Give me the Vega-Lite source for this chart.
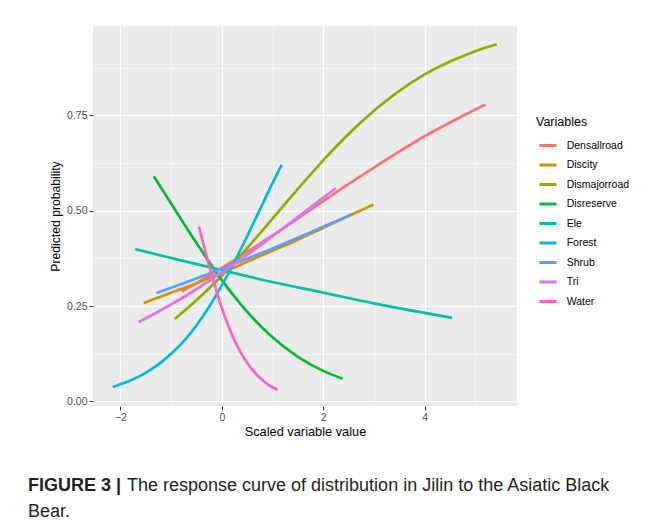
{
  "$schema": "https://vega.github.io/schema/vega-lite/v6.json",
  "autosize": {"type": "none"},
  "width": 424,
  "height": 380,
  "padding": {"left": 93, "top": 26, "right": 153, "bottom": 121},
  "background": "white",
  "data": {"values": [
    {"v":"Densallroad","x":-0.79,"p":0.288},{"v":"Densallroad","x":-0.5,"p":0.310},{"v":"Densallroad","x":0,"p":0.350},{"v":"Densallroad","x":0.5,"p":0.392},{"v":"Densallroad","x":1,"p":0.435},{"v":"Densallroad","x":1.5,"p":0.480},{"v":"Densallroad","x":2,"p":0.525},{"v":"Densallroad","x":2.5,"p":0.570},{"v":"Densallroad","x":3,"p":0.613},{"v":"Densallroad","x":3.5,"p":0.655},{"v":"Densallroad","x":4,"p":0.695},{"v":"Densallroad","x":4.5,"p":0.731},{"v":"Densallroad","x":5,"p":0.765},{"v":"Densallroad","x":5.2,"p":0.778},
    {"v":"Discity","x":-1.54,"p":0.258},{"v":"Discity","x":-1,"p":0.285},{"v":"Discity","x":-0.5,"p":0.310},{"v":"Discity","x":0,"p":0.337},{"v":"Discity","x":0.5,"p":0.366},{"v":"Discity","x":1,"p":0.395},{"v":"Discity","x":1.5,"p":0.424},{"v":"Discity","x":2,"p":0.455},{"v":"Discity","x":2.5,"p":0.486},{"v":"Discity","x":2.99,"p":0.516},
    {"v":"Dismajorroad","x":-0.93,"p":0.216},{"v":"Dismajorroad","x":-0.5,"p":0.265},{"v":"Dismajorroad","x":0,"p":0.330},{"v":"Dismajorroad","x":0.5,"p":0.402},{"v":"Dismajorroad","x":1,"p":0.479},{"v":"Dismajorroad","x":1.5,"p":0.557},{"v":"Dismajorroad","x":2,"p":0.632},{"v":"Dismajorroad","x":2.5,"p":0.701},{"v":"Dismajorroad","x":3,"p":0.762},{"v":"Dismajorroad","x":3.5,"p":0.814},{"v":"Dismajorroad","x":4,"p":0.857},{"v":"Dismajorroad","x":4.5,"p":0.891},{"v":"Dismajorroad","x":5,"p":0.918},{"v":"Dismajorroad","x":5.42,"p":0.936},
    {"v":"Disreserve","x":-1.34,"p":0.590},{"v":"Disreserve","x":-1,"p":0.519},{"v":"Disreserve","x":-0.5,"p":0.415},{"v":"Disreserve","x":0,"p":0.318},{"v":"Disreserve","x":0.5,"p":0.235},{"v":"Disreserve","x":1,"p":0.168},{"v":"Disreserve","x":1.5,"p":0.117},{"v":"Disreserve","x":2,"p":0.080},{"v":"Disreserve","x":2.38,"p":0.0595},
    {"v":"Ele","x":-1.71,"p":0.399},{"v":"Ele","x":-1,"p":0.376},{"v":"Ele","x":0,"p":0.344},{"v":"Ele","x":1,"p":0.313},{"v":"Ele","x":2,"p":0.285},{"v":"Ele","x":3,"p":0.257},{"v":"Ele","x":4,"p":0.232},{"v":"Ele","x":4.54,"p":0.219},
    {"v":"Forest","x":-2.15,"p":0.0378},{"v":"Forest","x":-1.75,"p":0.058},{"v":"Forest","x":-1.5,"p":0.075},{"v":"Forest","x":-1.25,"p":0.097},{"v":"Forest","x":-1,"p":0.125},{"v":"Forest","x":-0.75,"p":0.158},{"v":"Forest","x":-0.5,"p":0.199},{"v":"Forest","x":-0.25,"p":0.248},{"v":"Forest","x":0,"p":0.304},{"v":"Forest","x":0.25,"p":0.366},{"v":"Forest","x":0.5,"p":0.433},{"v":"Forest","x":0.75,"p":0.5025},{"v":"Forest","x":1,"p":0.572},{"v":"Forest","x":1.18,"p":0.620},
    {"v":"Shrub","x":-1.29,"p":0.284},{"v":"Shrub","x":-0.5,"p":0.322},{"v":"Shrub","x":0,"p":0.348},{"v":"Shrub","x":0.5,"p":0.374},{"v":"Shrub","x":1,"p":0.401},{"v":"Shrub","x":1.5,"p":0.429},{"v":"Shrub","x":2,"p":0.458},{"v":"Shrub","x":2.545,"p":0.489},
    {"v":"Tri","x":-1.64,"p":0.208},{"v":"Tri","x":-1,"p":0.254},{"v":"Tri","x":-0.5,"p":0.294},{"v":"Tri","x":0,"p":0.338},{"v":"Tri","x":0.5,"p":0.384},{"v":"Tri","x":1,"p":0.433},{"v":"Tri","x":1.5,"p":0.483},{"v":"Tri","x":2,"p":0.534},{"v":"Tri","x":2.25,"p":0.559},
    {"v":"Water","x":-0.45,"p":0.458},{"v":"Water","x":-0.35,"p":0.406},{"v":"Water","x":-0.25,"p":0.356},{"v":"Water","x":0,"p":0.245},{"v":"Water","x":0.1,"p":0.208},{"v":"Water","x":0.25,"p":0.160},{"v":"Water","x":0.4,"p":0.122},{"v":"Water","x":0.5,"p":0.1007},{"v":"Water","x":0.75,"p":0.0617},{"v":"Water","x":0.9,"p":0.0455},{"v":"Water","x":1.1,"p":0.0302}
  ]},
  "title": {
    "text": "FIGURE 3 |",
    "subtitle": ["\u200b\u2002\u2002\u2002\u2002\u2002\u2002\u2002\u2002\u2002\u2002\u2002The response curve of distribution in Jilin to the Asiatic Black", "Bear."],
    "orient": "bottom",
    "anchor": "start",
    "frame": "group",
    "dx": -65,
    "offset": 39,
    "font": "Liberation Sans",
    "fontSize": 18,
    "fontWeight": "bold",
    "color": "#231F20",
    "subtitleFont": "Liberation Sans",
    "subtitleFontSize": 18,
    "subtitleFontWeight": "normal",
    "subtitleColor": "#231F20",
    "subtitleLineHeight": 26,
    "subtitlePadding": -18
  },
  "layer": [
    {
      "mark": {"type": "line", "opacity": 0},
      "encoding": {
        "x": {"field": "x", "type": "quantitative", "scale": {"domain": [-2.54, 5.82], "nice": false, "zero": false},
              "axis": {"orient": "top", "values": [-1, 1, 3, 5], "labels": false, "ticks": false, "domain": false, "title": null, "grid": true, "gridWidth": 0.55, "gridColor": "white"}},
        "y": {"field": "p", "type": "quantitative", "scale": {"domain": [-0.012, 0.984], "nice": false, "zero": false},
              "axis": {"orient": "right", "values": [0.125, 0.375, 0.625, 0.875], "labels": false, "ticks": false, "domain": false, "title": null, "grid": true, "gridWidth": 0.55, "gridColor": "white"}},
        "detail": {"field": "v"}
      }
    },
    {
      "mark": {"type": "line", "strokeWidth": 2.7, "interpolate": "monotone"},
      "encoding": {
        "x": {"field": "x", "type": "quantitative", "scale": {"domain": [-2.54, 5.82], "nice": false, "zero": false},
              "axis": {"orient": "bottom", "values": [-2, 0, 2, 4], "title": "Scaled variable value", "grid": true, "gridWidth": 1.1, "gridColor": "white", "titleFontSize": 12.8, "titlePadding": 3}},
        "y": {"field": "p", "type": "quantitative", "scale": {"domain": [-0.012, 0.984], "nice": false, "zero": false},
              "axis": {"orient": "left", "values": [0, 0.25, 0.5, 0.75], "format": ".2f", "title": "Predicted probability", "grid": true, "gridWidth": 1.1, "gridColor": "white", "titleFontSize": 12.2, "titlePadding": 4}},
        "color": {"field": "v", "type": "nominal", "title": "Variables",
                  "scale": {"domain": ["Densallroad","Discity","Dismajorroad","Disreserve","Ele","Forest","Shrub","Tri","Water"],
                            "range": ["#F8766D","#D39200","#93AA00","#00BA38","#00C19F","#00B9E3","#619CFF","#DB72FB","#FF61C3"]},
                  "legend": {"orient": "none", "legendX": 443, "legendY": 90, "symbolType": "stroke", "symbolSize": 289, "symbolStrokeWidth": 3, "symbolOffset": 2, "labelOffset": 8.7, "rowPadding": 3.5, "titlePadding": 7, "padding": 0}}
      }
    }
  ],
  "resolve": {"axis": {"x": "independent", "y": "independent"}},
  "config": {
    "font": "Liberation Sans",
    "view": {"fill": "#EBEBEB", "stroke": null},
    "axis": {
      "domain": false,
      "tickColor": "#333333",
      "tickSize": 4,
      "tickWidth": 1,
      "labelColor": "#4D4D4D",
      "labelFontSize": 10.5,
      "labelFont": "Liberation Sans",
      "labelPadding": 2,
      "titleColor": "#000000",
      "titleFontWeight": "normal",
      "titleFont": "Liberation Sans"
    },
    "legend": {
      "titleFontSize": 12.5,
      "titleFontWeight": "normal",
      "titleColor": "#000000",
      "titleFont": "Liberation Sans",
      "labelFontSize": 10.5,
      "labelColor": "#000000",
      "labelFont": "Liberation Sans"
    }
  }
}
